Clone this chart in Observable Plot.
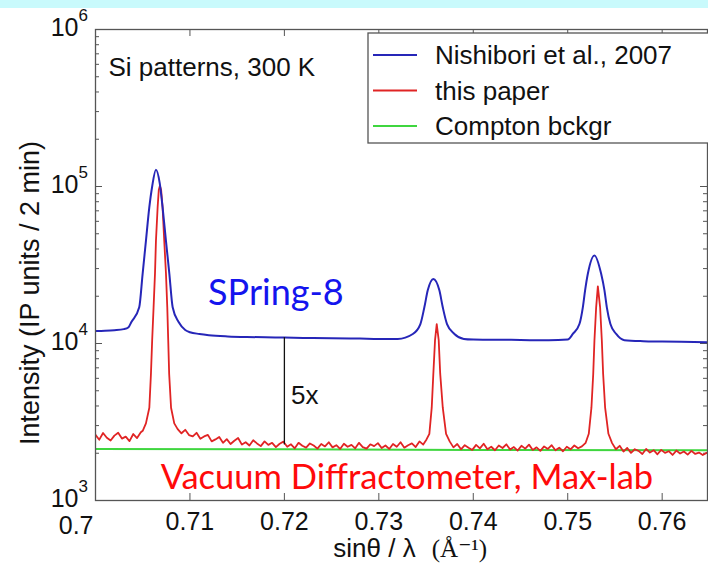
<!DOCTYPE html>
<html><head><meta charset="utf-8">
<script src="https://cdn.jsdelivr.net/npm/d3@7"></script>
<script src="https://cdn.jsdelivr.net/npm/@observablehq/plot@0.6"></script>
<style>
body{margin:0;background:#fff;}
#wrap{position:relative;width:708px;height:570px;overflow:hidden;background:#fff;}
#band{position:absolute;left:0;top:0;width:708px;height:8px;background:#c9fafc;z-index:2;}
</style></head><body><div id="wrap"><div id="band"></div></div>
<script>
// ---------------- data ----------------
const bluePts = [
[0.7000,12000],[0.7010,12050],[0.7020,12150],[0.7030,12350],[0.7035,12700],[0.7038,13700],
[0.70463,17000],[0.70499,27800],[0.70534,45000],[0.70569,73000],[0.7060,100000],[0.7064,128000],
[0.7068,105000],[0.70711,73000],[0.70746,45000],[0.70782,27800],[0.70817,17000],[0.7088,13700],
[0.7095,12200],[0.7100,11800],[0.7110,11500],[0.7120,11300],[0.7140,11100],[0.7160,11000],
[0.7180,10950],[0.7200,10900],[0.7220,10850],[0.7250,10800],[0.7280,10750],[0.7300,10700],
[0.7320,10700],[0.7336,11500],[0.7344,13300],[0.73482,17000],[0.73518,21800],[0.73577,25800],
[0.73641,21800],[0.73677,17000],[0.73722,13300],[0.7380,11500],[0.7390,10700],[0.7400,10600],
[0.7420,10550],[0.7440,10550],[0.7460,10500],[0.7480,10500],[0.7500,10600],[0.75054,11500],
[0.75124,13300],[0.7516,17000],[0.75184,21800],[0.75213,27800],[0.75283,36400],[0.75354,27800],
[0.75389,21800],[0.75414,17000],[0.75452,13300],[0.75513,11500],[0.7560,10500],[0.7580,10350],
[0.7600,10300],[0.7620,10250],[0.7648,10200]
];
const redPts = [
[0.7000,2620],[0.7004,2440],[0.7008,2690],[0.7012,2510],[0.7016,2410],[0.7020,2590],[0.7024,2700],
[0.7028,2480],[0.7032,2550],[0.7036,2390],[0.7040,2650],[0.7044,2500],[0.7048,2720],[0.7050,2780],
[0.70534,3100],[0.7057,3900],[0.70587,6400],[0.7060,10500],[0.70615,17000],[0.7063,28000],
[0.7064,45000],[0.70658,74000],[0.7067,95000],[0.70682,101000],[0.70695,95000],[0.7071,74000],
[0.70728,45000],[0.70746,28000],[0.7076,17000],[0.7077,10500],[0.7078,6400],[0.7080,3900],
[0.70834,3100],[0.7087,2850],[0.7091,2680],[0.7095,2820],[0.7099,2610],[0.7103,2560],[0.7107,2700],
[0.7111,2470],[0.7115,2560],[0.7119,2620],[0.7123,2380],[0.7127,2450],[0.7131,2540],[0.7135,2330],
[0.7139,2460],[0.7143,2290],[0.7147,2400],[0.7151,2500],[0.7155,2270],[0.7159,2350],[0.7163,2240],
[0.7167,2420],[0.7171,2310],[0.7175,2220],[0.7179,2380],[0.7183,2260],[0.7187,2330],[0.7191,2190],
[0.7195,2300],[0.7199,2370],[0.7203,2200],[0.7207,2280],[0.7211,2150],[0.7215,2330],[0.7219,2230],
[0.7223,2170],[0.7227,2310],[0.7231,2240],[0.7235,2140],[0.7239,2290],[0.7243,2210],[0.7247,2350],
[0.7251,2180],[0.7255,2250],[0.7259,2130],[0.7263,2300],[0.7267,2200],[0.7271,2260],[0.7275,2150],
[0.7279,2330],[0.7283,2190],[0.7287,2140],[0.7291,2280],[0.7295,2220],[0.7299,2320],[0.7303,2160],
[0.7307,2240],[0.7311,2130],[0.7315,2290],[0.7319,2200],[0.7323,2350],[0.7327,2170],[0.7331,2250],
[0.7335,2310],[0.7339,2190],[0.7343,2380],[0.7347,2270],[0.73505,2450],[0.73535,2660],[0.7356,3900],
[0.73577,6400],[0.73595,10500],[0.73613,13300],[0.73634,10500],[0.7365,6400],[0.73677,3900],
[0.73712,2660],[0.7375,2380],[0.7379,2180],[0.7383,2290],[0.7387,2120],[0.7391,2250],[0.7395,2170],
[0.7399,2100],[0.7403,2260],[0.7407,2150],[0.7411,2300],[0.7415,2120],[0.7419,2200],[0.7423,2090],
[0.7427,2240],[0.7431,2160],[0.7435,2280],[0.7439,2110],[0.7443,2190],[0.7447,2080],[0.7451,2230],
[0.7455,2140],[0.7459,2270],[0.7463,2100],[0.7467,2180],[0.7471,2070],[0.7475,2210],[0.7479,2130],
[0.7483,2250],[0.7487,2090],[0.7491,2170],[0.7495,2060],[0.7499,2200],[0.7503,2120],[0.7507,2240],
[0.7511,2150],[0.7515,2210],[0.7519,2330],[0.75223,2660],[0.75251,3900],[0.7527,6400],[0.75283,10500],
[0.75301,17000],[0.75319,23100],[0.75343,17000],[0.75361,10500],[0.75375,6400],[0.75396,3900],
[0.75431,2660],[0.7547,2320],[0.7551,2120],[0.7555,2230],[0.7559,2050],[0.7563,2160],[0.7567,2010],
[0.7571,2120],[0.7575,2070],[0.7579,1980],[0.7583,2130],[0.7587,2020],[0.7591,2090],[0.7595,1970],
[0.7599,2100],[0.7603,2010],[0.7607,2060],[0.7611,1950],[0.7615,2080],[0.7619,1990],[0.7623,2050],
[0.7627,1960],[0.7631,2070],[0.7635,1980],[0.7639,2020],[0.7643,1950],[0.7647,2010]
];
const greenPts = [[0.7000,2130],[0.7200,2120],[0.7400,2100],[0.7648,2090]];

const ratioLine = [[0.72, 10900, 2260]]; // x, top, bottom of the "5x" bar

const xTicks = [0.70, 0.71, 0.72, 0.73, 0.74, 0.75, 0.76];
const xTickLabels = ["0.7", "0.71", "0.72", "0.73", "0.74", "0.75", "0.76"];
const yTicks = [1e3, 1e4, 1e5, 1e6];
const yTickExp = ["3", "4", "5", "6"];
const yMinor = [2e3,3e3,4e3,5e3,6e3,7e3,8e3,9e3,2e4,3e4,4e4,5e4,6e4,7e4,8e4,9e4,2e5,3e5,4e5,5e5,6e5,7e5,8e5,9e5];

const legendNames = ["Nishibori et al., 2007", "this paper", "Compton bckgr"];
const seriesColors = ["#2626b8", "#e02424", "#3fd63f"];

// ---------------- layout ----------------
const W = 708, H = 570, mL = 95, mR = 1, mT = 29, mB = 70;
const pW = W - mL - mR, pH = H - mT - mB;
const sans = "'Liberation Sans', Arial, Helvetica, sans-serif";
const axisGray = "#555";

const plot = Plot.plot({
  width: W, height: H,
  marginLeft: mL, marginRight: mR, marginTop: mT, marginBottom: mB,
  style: {fontFamily: sans, background: "transparent", color: "#111", overflow: "hidden"},
  x: {domain: [0.7, 0.7648], axis: null},
  y: {type: "log", domain: [1e3, 1e6], axis: null},
  marks: [
    // inward ticks
    Plot.tickX(xTicks.slice(1), {x: d => d, insetTop: pH - 7, stroke: axisGray}),
    Plot.tickX(xTicks.slice(1), {x: d => d, insetBottom: pH - 7, stroke: axisGray}),
    Plot.tickY(yTicks, {y: d => d, insetRight: pW - 7, stroke: axisGray}),
    Plot.tickY(yTicks, {y: d => d, insetLeft: pW - 7, stroke: axisGray}),
    Plot.tickY(yMinor, {y: d => d, insetRight: pW - 4, stroke: axisGray}),
    Plot.tickY(yMinor, {y: d => d, insetLeft: pW - 4, stroke: axisGray}),
    // series
    Plot.line(greenPts, {x: "0", y: "1", stroke: seriesColors[2], strokeWidth: 2, clip: true}),
    Plot.line(redPts, {x: "0", y: "1", stroke: seriesColors[1], strokeWidth: 1.8, clip: true}),
    Plot.line(bluePts, {x: "0", y: "1", stroke: seriesColors[0], strokeWidth: 2, curve: "monotone-x", clip: true}),
    Plot.ruleX(ratioLine, {x: "0", y1: "1", y2: "2", stroke: "#111", strokeWidth: 1.3}),
    Plot.frame({stroke: axisGray, strokeWidth: 1.3}),
    // x tick labels
    Plot.text(xTicks.slice(1), {x: d => d, frameAnchor: "bottom", text: (d, i) => xTickLabels[i + 1], dy: 29, fontSize: 25, fill: "#111"}),
    Plot.text(xTicks.slice(0, 1), {x: d => d, frameAnchor: "bottom", text: (d, i) => xTickLabels[i], dy: 33, fontSize: 25, textAnchor: "end", dx: -2, fill: "#111"}),
    // y tick labels 10^k
    Plot.text(yTicks, {y: d => d, frameAnchor: "left", text: () => "10", dx: -17, dy: -2, textAnchor: "end", fontSize: 25, fill: "#111"}),
    Plot.text(yTicks, {y: d => d, frameAnchor: "left", text: (d, i) => yTickExp[i], dx: -17, dy: -14, textAnchor: "start", fontSize: 17, fill: "#111"}),
    // axis titles
    Plot.text(["Intensity (IP units / 2 min)"], {frameAnchor: "left", rotate: -90, textAnchor: "middle", dx: -65, dy: 28, fontSize: 27, fill: "#111"}),
    Plot.text(["sinθ / λ"], {frameAnchor: "bottom", dx: -27, dy: 56, fontSize: 26, fill: "#111"}),
    Plot.text(["(Å⁻¹)"], {frameAnchor: "bottom", dx: 58, dy: 56, fontSize: 25, fontFamily: "'Liberation Serif', 'DejaVu Serif', serif", fill: "#111"}),
    // annotations
    Plot.text(["Si patterns, 300 K"], {frameAnchor: "top-left", dx: 13, dy: 28, fontSize: 26, textAnchor: "start", fill: "#111"}),
    Plot.text(["5x"], {x: [0.7207], y: [4670], text: d => d, textAnchor: "start", fontSize: 26, fill: "#111"}),
    Plot.text(["SPring-8"], {x: [0.7191], y: [20800], text: d => d, fontSize: 36, fontFamily: "Lato, 'Open Sans', sans-serif", fill: "#1414ee"}),
    Plot.text(["Vacuum Diffractometer, Max-lab"], {x: [0.73297], y: [1400], text: d => d, fontSize: 34.5, fontFamily: "Lato, 'Open Sans', sans-serif", fill: "#ff0a0a"})
  ]
});

// legend box
const svg = d3.select(plot);
const lg = svg.append("g").attr("font-family", sans).attr("text-anchor", "start");
lg.append("rect").attr("x", 368).attr("y", 33).attr("width", 420).attr("height", 110)
  .attr("fill", "#fff").attr("stroke", axisGray).attr("stroke-width", 1.3);
legendNames.forEach((name, i) => {
  const cy = 55 + i * 35.5;
  lg.append("line").attr("x1", 373).attr("x2", 417).attr("y1", cy).attr("y2", cy)
    .attr("stroke", seriesColors[i]).attr("stroke-width", 2);
  lg.append("text").attr("x", 435).attr("y", cy).attr("dy", "0.35em")
    .attr("text-anchor", "start").attr("font-size", 26).attr("fill", "#111").text(name);
});

document.getElementById("wrap").appendChild(plot);
</script>
</body></html>
